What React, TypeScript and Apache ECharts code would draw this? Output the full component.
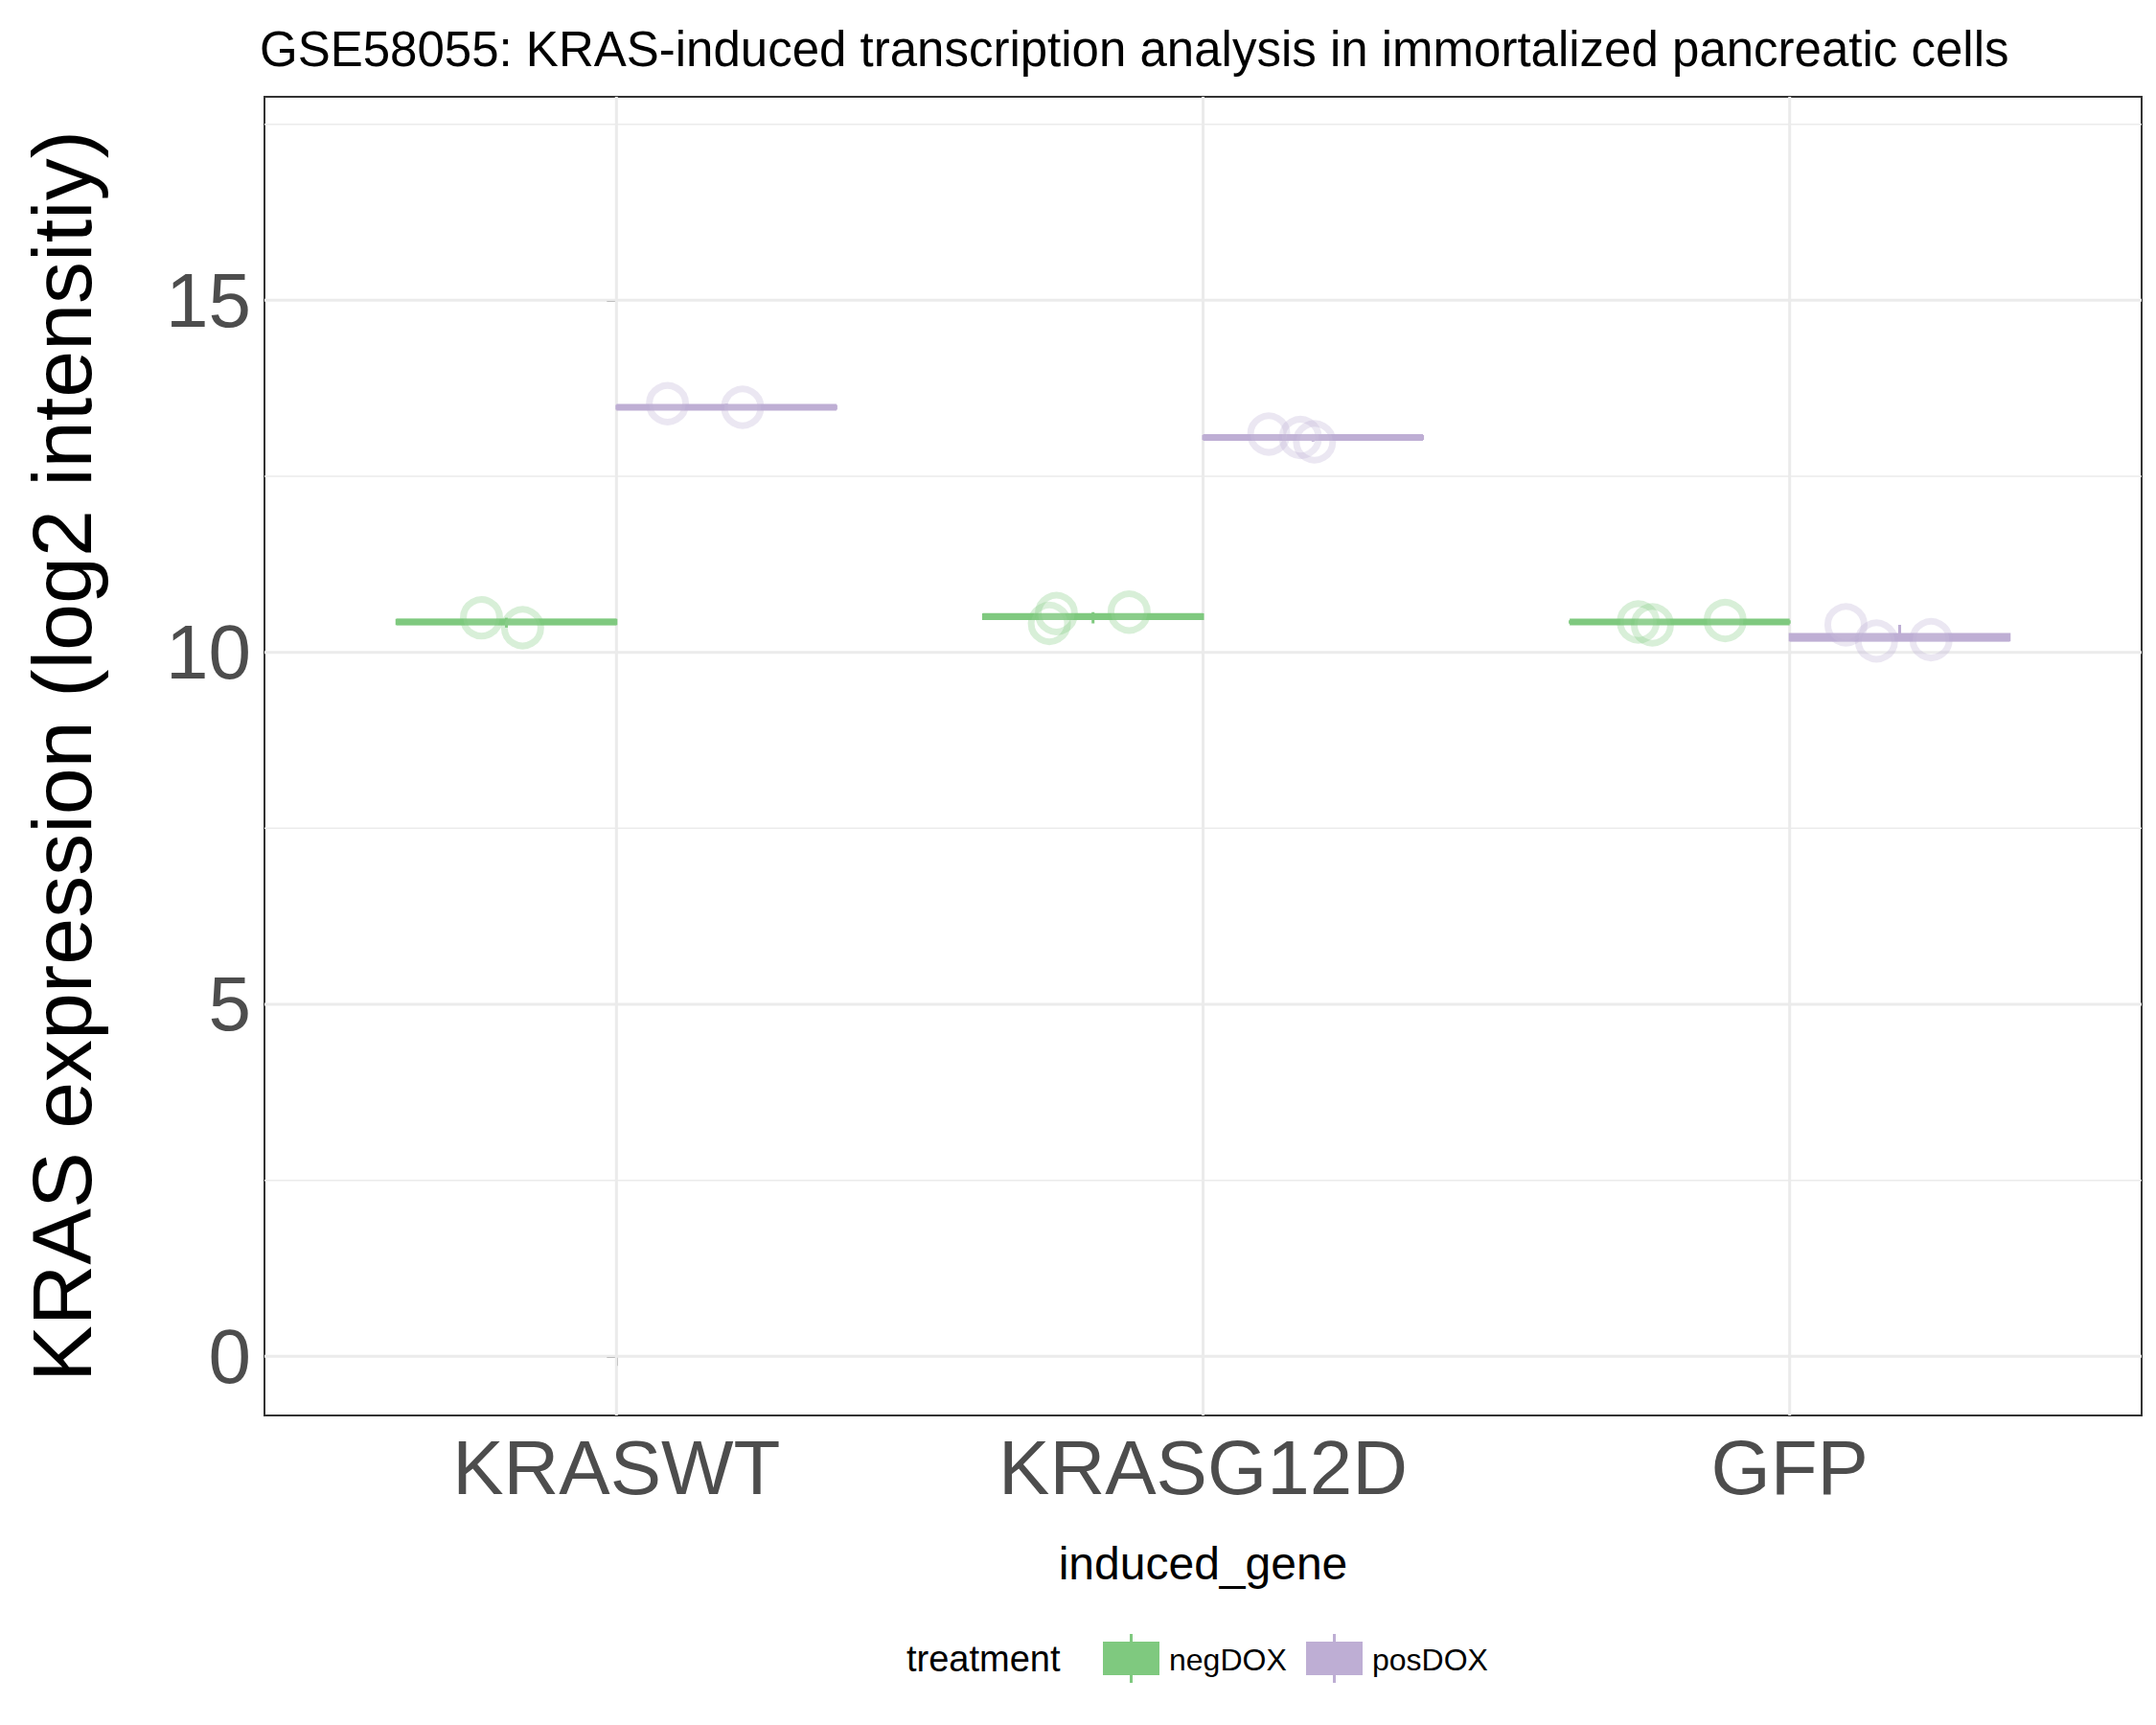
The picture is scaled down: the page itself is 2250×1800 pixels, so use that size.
import React, { useEffect, useRef } from "react";
import * as echarts from "echarts";

const categories = ["KRASWT", "KRASG12D", "GFP"];
const treatments = ["negDOX", "posDOX"];
const colors = ["#7fc97f", "#beaed4"];

// box stats per category [min, q1, median, q3, max]
const negBox = [
  [10.35, 10.4, 10.43, 10.46, 10.49],
  [10.41, 10.47, 10.51, 10.54, 10.57],
  [10.4, 10.42, 10.43, 10.44, 10.46],
];
const posBox = [
  [13.48, 13.46, 13.48, 13.5, 13.53],
  [12.99, 13.03, 13.05, 13.07, 13.1],
  [10.16, 10.17, 10.2, 10.26, 10.39],
];
// points: [category index + jitter, value]
const negPoints = [
  [-0.23, 10.49], [-0.16, 10.35],
  [0.738, 10.41], [0.75, 10.55], [0.874, 10.57],
  [1.742, 10.43], [1.766, 10.39], [1.89, 10.45],
];
const posPoints = [
  [0.087, 13.53], [0.215, 13.48],
  [1.112, 13.1], [1.166, 13.05], [1.19, 12.99],
  [2.096, 10.39], [2.148, 10.16], [2.241, 10.18],
];
const yTicks = [0, 5, 10, 15];
const yMinor = [2.5, 7.5, 12.5, 17.5];
const Y_MIN = -0.84;
const Y_MAX = 17.89;

const FONT = "Liberation Sans, Arial, sans-serif";

const App = () => {
  const chartRef = useRef<HTMLDivElement>(null);

  useEffect(() => {
    const chart = echarts.init(chartRef.current!, null, { renderer: "svg" });
    const boxSeries = (boxes: number[][], side: number, color: string) => ({
      type: "custom",
      renderItem: (params: any, api: any) => {
        const i = api.value(0);
        const c = i + side * 0.1875;
        const l = api.coord([c - 0.1875, api.value(2)]);
        const r = api.coord([c + 0.1875, api.value(4)]);
        const mid = api.coord([c, api.value(3)]);
        const lo = api.coord([c, api.value(1)]);
        const hi = api.coord([c, api.value(5)]);
        return {
          type: "group",
          children: [
            { type: "line", shape: { x1: lo[0], y1: lo[1], x2: hi[0], y2: hi[1] }, style: { stroke: color, lineWidth: 3 } },
            { type: "rect", shape: { x: l[0], y: r[1], width: r[0] - l[0], height: Math.max(l[1] - r[1], 1) }, style: { fill: color, stroke: color, lineWidth: 2 } },
            { type: "line", shape: { x1: l[0], y1: mid[1], x2: r[0], y2: mid[1] }, style: { stroke: color, lineWidth: 7 } },
          ],
        };
      },
      data: boxes.map((b, i) => [i, ...b]),
      z: 3,
    });
    const pointSeries = (pts: number[][], color: string) => ({
      type: "scatter",
      data: pts,
      symbolSize: 38,
      itemStyle: { color: "rgba(255,255,255,0.3)", borderColor: color, borderWidth: 7, opacity: 0.3 },
      z: 4,
    });
    const option = {
      animation: false,
      title: {
        text: "GSE58055: KRAS-induced transcription analysis in immortalized pancreatic cells",
        left: 258,
        top: 13,
        textStyle: { fontFamily: FONT, fontSize: 51, fontWeight: "normal", color: "#000" },
      },
      grid: { left: 268, right: 23, top: 93, bottom: 331, show: true, borderColor: "#333", borderWidth: 2 },
      xAxis: {
        type: "value",
        min: -0.6,
        max: 2.6,
        name: "induced_gene",
        nameLocation: "middle",
        nameGap: 130,
        nameTextStyle: { fontFamily: FONT, fontSize: 48, color: "#000" },
        axisLine: { show: false },
        splitLine: { show: false },
        axisTick: { show: true, customValues: [0, 1, 2], length: 10, lineStyle: { color: "#333", width: 2 } },
        axisLabel: {
          customValues: [0, 1, 2],
          formatter: (v: number) => categories[Math.round(v)],
          fontFamily: FONT,
          fontSize: 80,
          color: "#4d4d4d",
          margin: 14,
        },
      },
      yAxis: {
        type: "value",
        min: Y_MIN,
        max: Y_MAX,
        name: "KRAS expression (log2 intensitiy)",
        nameLocation: "middle",
        nameGap: 168,
        nameTextStyle: { fontFamily: FONT, fontSize: 88, color: "#000" },
        axisLine: { show: false },
        splitLine: { show: false },
        axisTick: { show: true, customValues: yTicks, length: 10, lineStyle: { color: "#333", width: 2 } },
        axisLabel: { customValues: yTicks, fontFamily: FONT, fontSize: 80, color: "#4d4d4d", margin: 14 },
      },
      graphic: [
        { type: "text", left: 938, top: 1704, style: { text: "treatment", fontFamily: FONT, fontSize: 38, fill: "#000" } },
        { type: "rect", left: 1143, top: 1705, shape: { width: 59, height: 35 }, style: { fill: colors[0] } },
        { type: "line", shape: { x1: 1172.5, y1: 1697, x2: 1172.5, y2: 1748 }, style: { stroke: colors[0], lineWidth: 3 } },
        { type: "text", left: 1212, top: 1708, style: { text: treatments[0], fontFamily: FONT, fontSize: 32, fill: "#000" } },
        { type: "rect", left: 1355, top: 1705, shape: { width: 59, height: 35 }, style: { fill: colors[1] } },
        { type: "line", shape: { x1: 1384.5, y1: 1697, x2: 1384.5, y2: 1748 }, style: { stroke: colors[1], lineWidth: 3 } },
        { type: "text", left: 1424, top: 1708, style: { text: treatments[1], fontFamily: FONT, fontSize: 32, fill: "#000" } },
      ],
      series: [
        {
          type: "custom",
          silent: true,
          renderItem: (params: any, api: any) => {
            const children: any[] = [];
            const x0 = api.coord([-0.6, 0])[0];
            const x1 = api.coord([2.6, 0])[0];
            const yT = api.coord([0, Y_MAX])[1];
            const yB = api.coord([0, Y_MIN])[1];
            yMinor.forEach((v) => {
              const y = api.coord([0, v])[1];
              children.push({ type: "line", shape: { x1: x0, y1: y, x2: x1, y2: y }, style: { stroke: "#ebebeb", lineWidth: 1.5 } });
            });
            yTicks.forEach((v) => {
              const y = api.coord([0, v])[1];
              children.push({ type: "line", shape: { x1: x0, y1: y, x2: x1, y2: y }, style: { stroke: "#ebebeb", lineWidth: 3 } });
            });
            [0, 1, 2].forEach((v) => {
              const x = api.coord([v, 0])[0];
              children.push({ type: "line", shape: { x1: x, y1: yT, x2: x, y2: yB }, style: { stroke: "#ebebeb", lineWidth: 3 } });
            });
            return { type: "group", children };
          },
          data: [[0, 0]],
          z: 1,
        },
        boxSeries(negBox, -1, colors[0]),
        boxSeries(posBox, 1, colors[1]),
        pointSeries(negPoints, colors[0]),
        pointSeries(posPoints, colors[1]),
      ],
    };
    chart.setOption(option);
    return () => chart.dispose();
  }, []);

  return <div ref={chartRef} style={{ width: 2250, height: 1800 }}></div>;
};
export default App;
